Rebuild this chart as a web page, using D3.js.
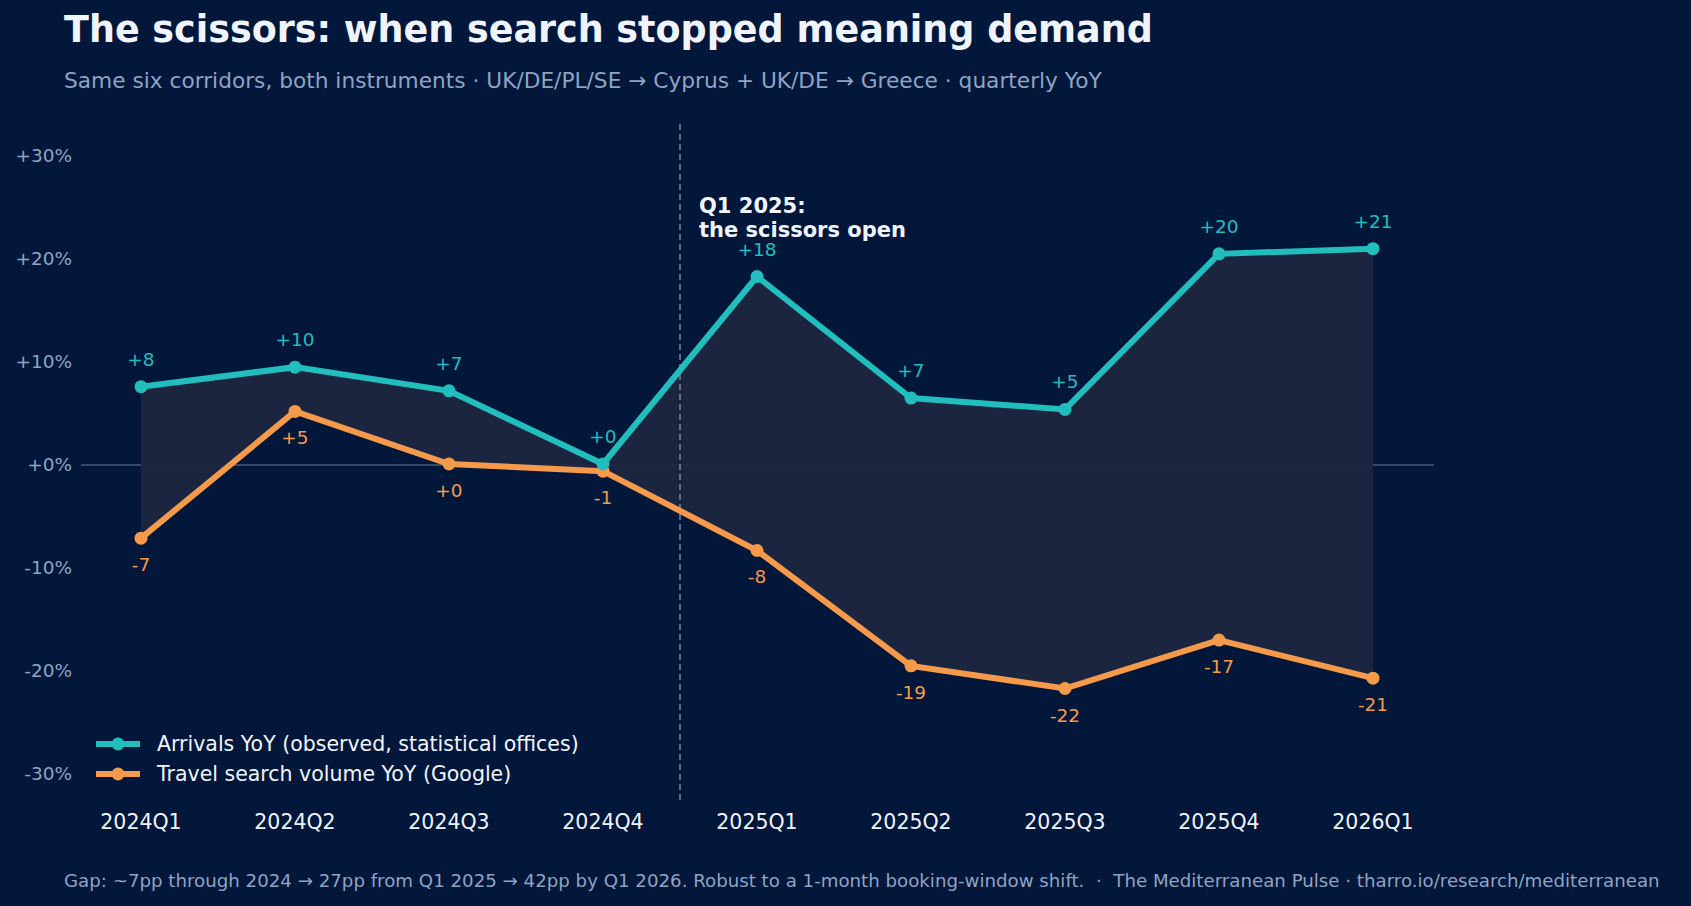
<!DOCTYPE html>
<html><head><meta charset="utf-8">
<script src="https://cdn.jsdelivr.net/npm/d3@7"></script>
<style>body{margin:0;background:#021739;}text{font-family:"DejaVu Sans",sans-serif;}</style>
</head><body><div id="chart"></div>
<script>
var quarters = ["2024Q1","2024Q2","2024Q3","2024Q4","2025Q1","2025Q2","2025Q3","2025Q4","2026Q1"]
var arrivals = [7.6, 9.5, 7.2, 0.1, 18.3, 6.5, 5.4, 20.5, 21.0]
var arrivalLabels = ["+8","+10","+7","+0","+18","+7","+5","+20","+21"]
var search = [-7.1, 5.2, 0.1, -0.6, -8.3, -19.5, -21.7, -17.0, -20.7]
var searchLabels = ["-7","+5","+0","-1","-8","-19","-22","-17","-21"]
var yTicks = [-30,-20,-10,0,10,20,30]

var W = 1691, H = 906
var teal = "#22bdbd", orange = "#f59a4a"
var svg = d3.select("#chart").append("svg").attr("width", W).attr("height", H)
svg.append("rect").attr("width", W).attr("height", H).attr("fill", "#021739")

var x = d3.scalePoint().domain(quarters).range([141, 1373])
var y = d3.scaleLinear().domain([-30, 30]).range([774, 156])

svg.append("text").attr("x", 64).attr("y", 42).text("The scissors: when search stopped meaning demand")
	.style("font-size", "36.5px").style("font-weight", "bold").style("fill", "#f0f4ff")
svg.append("text").attr("x", 64).attr("y", 88).text("Same six corridors, both instruments · UK/DE/PL/SE → Cyprus + UK/DE → Greece · quarterly YoY")
	.style("font-size", "21.7px").style("fill", "#8fa3c4")

// y ticks
svg.append("g").selectAll("text").data(yTicks).join("text")
	.attr("x", 72).attr("y", d => y(d) + 6).attr("text-anchor", "end")
	.text(d => (d >= 0 ? "+" : "") + d + "%")
	.style("font-size", "18.5px").style("fill", "#8fa3c4")
// x ticks
svg.append("g").selectAll("text").data(quarters).join("text")
	.attr("x", d => x(d)).attr("y", 829).attr("text-anchor", "middle").text(d => d)
	.style("font-size", "20.5px").style("fill", "#f0f4ff")

svg.append("line").attr("x1", 81).attr("x2", 1434).attr("y1", y(0)).attr("y2", y(0))
	.style("stroke", "#6b7a95").style("stroke-width", 1.2)

// fill between
var idx = d3.range(quarters.length)
svg.append("path").datum(idx)
	.attr("d", d3.area().x(i => x(quarters[i])).y0(i => y(search[i])).y1(i => y(arrivals[i])))
	.style("fill", "#1c2640").style("opacity", 0.95)

// divider
var xd = (x("2024Q4") + x("2025Q1")) / 2
svg.append("line").attr("x1", xd).attr("x2", xd).attr("y1", 124).attr("y2", 803)
	.style("stroke", "#7f8796").style("stroke-width", 1.5).style("stroke-dasharray", "6,4")
svg.append("text").attr("x", xd + 19).attr("y", 213).text("Q1 2025:")
	.style("font-size", "21px").style("font-weight", "bold").style("fill", "#f0f4ff")
svg.append("text").attr("x", xd + 19).attr("y", 237).text("the scissors open")
	.style("font-size", "21px").style("font-weight", "bold").style("fill", "#f0f4ff")

function series(vals, labels, color, dy) {
	var line = d3.line().x((d, i) => x(quarters[i])).y(d => y(d))
	svg.append("path").datum(vals).attr("d", line)
		.style("fill", "none").style("stroke", color).style("stroke-width", 6)
	svg.append("g").selectAll("circle").data(vals).join("circle")
		.attr("cx", (d, i) => x(quarters[i])).attr("cy", d => y(d)).attr("r", 6.5).style("fill", color)
	svg.append("g").selectAll("text").data(vals).join("text")
		.attr("x", (d, i) => x(quarters[i])).attr("y", d => y(d) + dy).attr("text-anchor", "middle")
		.text((d, i) => labels[i]).style("font-size", "18.5px").style("fill", color)
}
series(search, searchLabels, orange, 33)
series(arrivals, arrivalLabels, teal, -21)

// legend
var leg = [["Arrivals YoY (observed, statistical offices)", teal], ["Travel search volume YoY (Google)", orange]]
leg.forEach(function(l, i) {
	var ly = 744 + i * 30
	svg.append("line").attr("x1", 96).attr("x2", 140).attr("y1", ly).attr("y2", ly)
		.style("stroke", l[1]).style("stroke-width", 6)
	svg.append("circle").attr("cx", 118).attr("cy", ly).attr("r", 6.5).style("fill", l[1])
	svg.append("text").attr("x", 157).attr("y", ly + 7).text(l[0])
		.style("font-size", "20.5px").style("fill", "#f0f4ff")
})

svg.append("text").attr("x", 64).attr("y", 887).style("white-space", "pre")
	.text("Gap: ~7pp through 2024 → 27pp from Q1 2025 → 42pp by Q1 2026. Robust to a 1-month booking-window shift.  ·  The Mediterranean Pulse · tharro.io/research/mediterranean")
	.style("font-size", "18.2px").style("fill", "#8fa3c4")
</script></body></html>
